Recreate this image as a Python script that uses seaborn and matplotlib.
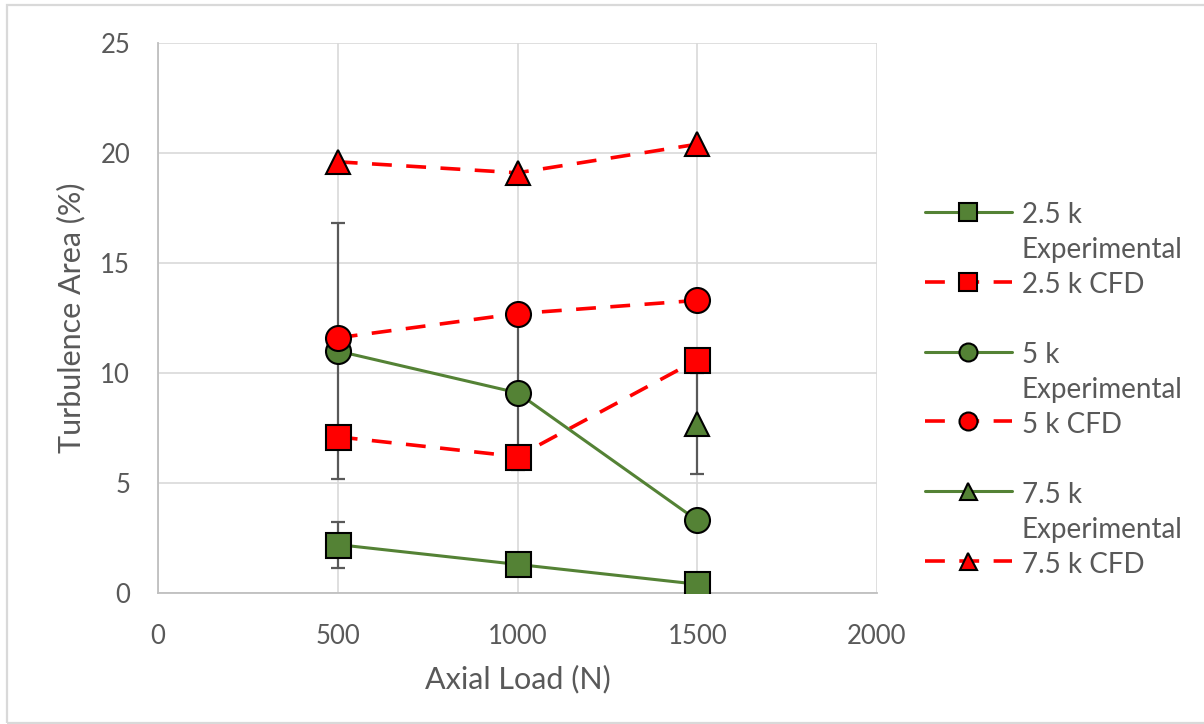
import numpy as np
import pandas as pd
import matplotlib
matplotlib.use("Agg")
import matplotlib.pyplot as plt
import seaborn as sns
from matplotlib.patches import Rectangle

# Axial load levels (N)
loads = [500, 1000, 1500]

# Turbulence area (%) per Reynolds-number case
exp_2_5k = [2.2, 1.3, 0.4]
cfd_2_5k = [7.1, 6.2, 10.6]
exp_5k = [11.0, 9.1, 3.3]
cfd_5k = [11.6, 12.7, 13.3]
exp_7_5k = [np.nan, np.nan, 7.7]
cfd_7_5k = [19.6, 19.1, 20.4]

# Experimental standard deviation
err_2_5k = [1.05, 0.0, 0.0]
err_5k = [5.8, 3.5, 0.0]
err_7_5k = [0.0, 0.0, 2.3]

series_labels = ["2.5 k\nExperimental", "2.5 k CFD\n",
                 "5 k\nExperimental", "5 k CFD\n",
                 "7.5 k\nExperimental", "7.5 k CFD\n"]

x_ticks = [0, 500, 1000, 1500, 2000]
y_ticks = [0, 5, 10, 15, 20, 25]

GREEN = "#548235"
RED = "#ff0000"
TEXT = "#595959"
GRID = "#d9d9d9"

sns.set_theme(style="white")
plt.rcParams["font.family"] = ["Lato", "DejaVu Sans"]

fig = plt.figure(figsize=(12.04, 7.24), dpi=100)
ax = fig.add_axes([158 / 1204, 1 - 593 / 724, (877 - 158) / 1204, (593 - 43) / 724])

# error bars sit beneath every series
for vals, err in [(exp_2_5k, err_2_5k), (exp_5k, err_5k), (exp_7_5k, err_7_5k)]:
    ax.errorbar(loads, vals, yerr=err, fmt="none", ecolor=TEXT,
                elinewidth=1.6, capsize=5, capthick=1.6, zorder=2)

dash = (0, (5.5, 4))
specs = [
    (exp_2_5k, GREEN, "s", "-", 18),
    (cfd_2_5k, RED, "s", dash, 18),
    (exp_5k, GREEN, "o", "-", 18),
    (cfd_5k, RED, "o", dash, 18),
    (exp_7_5k, GREEN, "^", "-", 17),
    (cfd_7_5k, RED, "^", dash, 17),
]

handles = []
for i, ((vals, color, mk, ls, ms), lab) in enumerate(zip(specs, series_labels)):
    df = pd.DataFrame({"load": loads, "area": vals}).dropna()
    sns.lineplot(data=df, x="load", y="area", ax=ax, color=color,
                 linestyle=ls, linewidth=2.6 if color == RED else 2.2,
                 marker=mk, markersize=ms, markerfacecolor=color,
                 markeredgecolor="black", markeredgewidth=1.5,
                 errorbar=None, legend=False, zorder=3 + i)
    handles.append(ax.get_lines()[-1])

ax.set_xlim(0, 2000)
ax.set_ylim(0, 25)
ax.set_xticks(x_ticks)
ax.set_yticks(y_ticks)
ax.grid(True, color=GRID, linewidth=1.2)
ax.set_axisbelow(True)
for side in ["top", "right"]:
    ax.spines[side].set_visible(False)
for side in ["left", "bottom"]:
    ax.spines[side].set_color("#bfbfbf")
    ax.spines[side].set_linewidth(1.3)
ax.tick_params(axis="both", length=0, labelsize=18.5, labelcolor=TEXT)
ax.tick_params(axis="y", pad=20)
ax.tick_params(axis="x", pad=22)

ax.set_xlabel("Axial Load (N)", fontsize=22, color=TEXT, labelpad=12)
ax.set_ylabel("Turbulence Area (%)", fontsize=22, color=TEXT, labelpad=11)

leg = fig.legend(handles, series_labels, loc="upper left",
                 bbox_to_anchor=(925 / 1204, 1 - 202 / 724),
                 frameon=False, fontsize=20, labelcolor=TEXT,
                 handlelength=3.13, handletextpad=0.35, markerscale=0.72,
                 labelspacing=0.32, borderpad=0, borderaxespad=0)
for t in leg.get_texts():
    t.set_linespacing(1.43)
for col in leg._legend_handle_box.get_children():
    for row in col.get_children():
        row.align = "top"

# light frame around the chart area
fig.patches.append(Rectangle((7 / 1204, 1 - 723 / 724), 1.0, 718 / 724,
                             transform=fig.transFigure, fill=False,
                             edgecolor=GRID, linewidth=1.6, zorder=0))

fig.savefig("out.png", dpi=100)
